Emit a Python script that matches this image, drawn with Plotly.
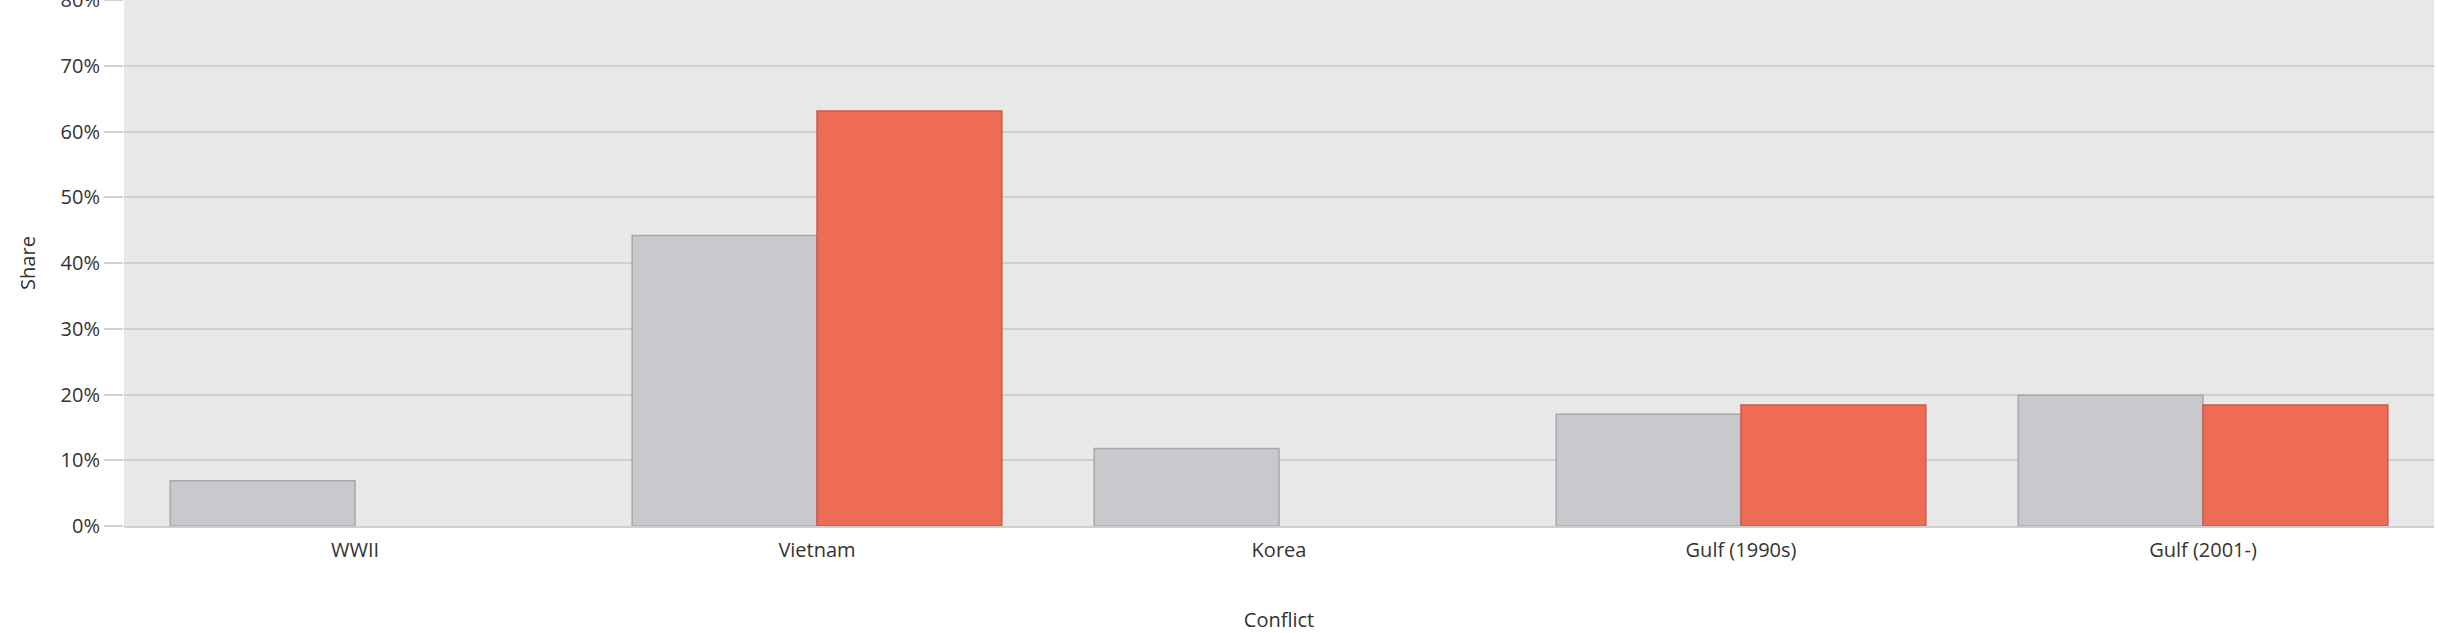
"""Share by conflict - grouped bar chart."""

import plotly.graph_objects as go

conflicts = ["WWII", "Vietnam", "Korea", "Gulf (1990s)", "Gulf (2001-)"]
share_gray = [0.069, 0.442, 0.118, 0.170, 0.199]
share_red = [None, 0.631, None, 0.184, 0.184]

y_ticks = [0, 0.1, 0.2, 0.3, 0.4, 0.5, 0.6, 0.7, 0.8]

fig = go.Figure()

fig.add_trace(
    go.Bar(
        x=conflicts,
        y=share_gray,
        name="All",
        marker=dict(color="#c8c9cd", line=dict(color="#a7a7ab", width=1.5)),
    )
)
fig.add_trace(
    go.Bar(
        x=conflicts,
        y=share_red,
        name="Selected",
        marker=dict(color="#ee6c55", line=dict(color="#c9594a", width=1.5)),
    )
)

fig.update_xaxes(
    title=dict(text="Conflict", standoff=53, font=dict(size=20, color="#333333")),
    tickfont=dict(size=20, color="#333333"),
    ticklabelstandoff=5,
    showline=True,
    linecolor="#cfcfcf",
    linewidth=1.5,
    ticks="",
    automargin=False,
)
fig.update_yaxes(
    title=dict(text="Share", standoff=19, font=dict(size=20, color="#333333")),
    range=[0, 0.8],
    tickvals=y_ticks,
    tickformat=".0%",
    tickfont=dict(size=20, color="#333333"),
    ticklabeloverflow="allow",
    gridcolor="#cfcfcf",
    gridwidth=1.5,
    ticks="outside",
    ticklen=19,
    tickcolor="#cfcfcf",
    tickwidth=1.5,
    zeroline=False,
    automargin=False,
)

fig.update_layout(
    width=2438,
    height=633,
    margin=dict(l=124, r=4, t=0, b=107),
    barmode="group",
    bargap=0.2,
    bargroupgap=0,
    showlegend=False,
    plot_bgcolor="#e8e8e8",
    paper_bgcolor="#ffffff",
    font=dict(family="Open Sans", size=20, color="#333333"),
)

# drop the browser's default page margin so the chart sits flush at the top-left
fig.write_html(
    "out.html",
    config={"displayModeBar": False},
    post_script="document.body.style.margin = '0';",
)
